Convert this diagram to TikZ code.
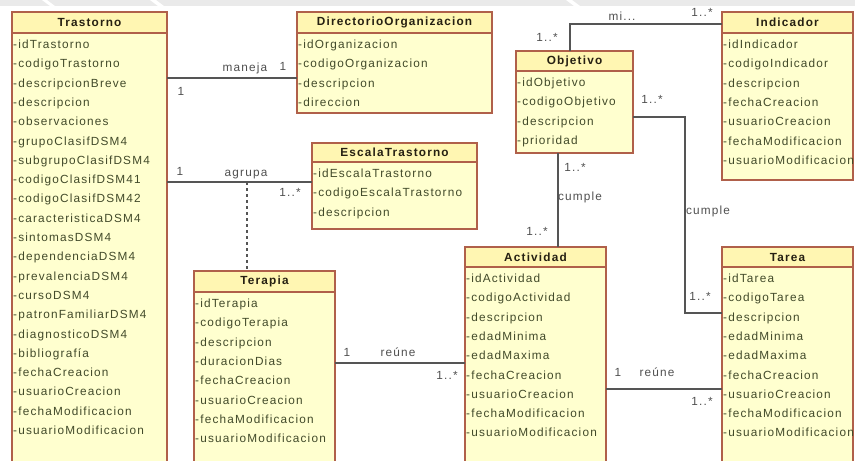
\documentclass[tikz,border=0pt]{standalone}
\usepackage{fontspec}
\setmainfont{Liberation Sans}
\newfontfamily\umlfont[LetterSpace=10]{Liberation Sans}

\definecolor{classfill}{RGB}{255,255,207}
\definecolor{headfill}{RGB}{255,246,178}
\definecolor{classline}{RGB}{176,96,74}
\definecolor{attrtext}{RGB}{66,74,42}
\definecolor{titletext}{RGB}{38,32,18}
\definecolor{linkline}{RGB}{85,85,85}
\definecolor{linktext}{RGB}{80,80,80}
\definecolor{bandgrey}{RGB}{234,234,234}

\tikzset{
  umltext/.style={font={\umlfont\fontsize{11.8}{13}\selectfont},
    text height=8.5pt, text depth=2.5pt},
  classbody/.style={draw=classline, fill=classfill, line width=1.3pt,
    inner sep=0pt, outer sep=0pt, anchor=north west},
  classhead/.style={draw=classline, fill=headfill, line width=1.3pt,
    inner sep=0pt, outer sep=0pt, anchor=north west,
    font={\umlfont\bfseries\fontsize{11.8}{13}\selectfont}, text=titletext},
  attr/.style={anchor=west, inner sep=0pt, umltext, text=attrtext},
  link/.style={draw=linkline, line width=1.1pt},
  linkdash/.style={link, dash pattern=on 3pt off 3pt},
  lbl/.style={inner sep=0pt, umltext, text=linktext},
}

% #1 name, #2 left, #3 top, #4 right, #5 bottom, #6 header bottom,
% #7 title, #8 attribute list
\newcommand\umlclass[8]{%
  \node[classbody, minimum width={#4-#2}, minimum height={#5-#3}] (#1) at (#2,#3) {};
  \node[classhead, minimum width={#4-#2}, minimum height={#6-#3}] (#1-head) at (#2,#3) {#7};
  \foreach \a [count=\i] in {#8}
    \node[attr] (#1-\i) at ({#2+1},{#6+12+round((\i-1)*19.3)}) {-\a};
}

\begin{document}
\begin{tikzpicture}[x=1pt,y=-1pt]
\useasboundingbox (0,0) rectangle (855,461);
\fill[white] (0,0) rectangle (855,461);
\clip (0,0) rectangle (855,461);

% light banner along the top edge
\fill[bandgrey] (0,0) rectangle (855,6);
\fill[white] (42,0) -- (47,0) -- (55,6) -- (50,6) -- cycle;
\fill[white] (150,0) -- (156,0) -- (164,6) -- (158,6) -- cycle;
\fill[white] (566,0) -- (572,0) -- (580,6) -- (574,6) -- cycle;

% classes
\umlclass{trastorno}{12}{12}{167}{480}{33}{Trastorno}{idTrastorno,codigoTrastorno,descripcionBreve,descripcion,observaciones,grupoClasifDSM4,subgrupoClasifDSM4,codigoClasifDSM41,codigoClasifDSM42,caracteristicaDSM4,sintomasDSM4,dependenciaDSM4,prevalenciaDSM4,cursoDSM4,patronFamiliarDSM4,diagnosticoDSM4,bibliografía,fechaCreacion,usuarioCreacion,fechaModificacion,usuarioModificacion}

\umlclass{directorio}{297}{12}{492}{113}{33}{DirectorioOrganizacion}{idOrganizacion,codigoOrganizacion,descripcion,direccion}

\umlclass{escala}{312}{143}{477}{229}{162}{EscalaTrastorno}{idEscalaTrastorno,codigoEscalaTrastorno,descripcion}

\umlclass{terapia}{194}{271}{335}{480}{292}{Terapia}{idTerapia,codigoTerapia,descripcion,duracionDias,fechaCreacion,usuarioCreacion,fechaModificacion,usuarioModificacion}

\umlclass{objetivo}{516}{51}{633}{153}{71}{Objetivo}{idObjetivo,codigoObjetivo,descripcion,prioridad}

\umlclass{indicador}{722}{12}{853}{180}{33}{Indicador}{idIndicador,codigoIndicador,descripcion,fechaCreacion,usuarioCreacion,fechaModificacion,usuarioModificacion}

\umlclass{actividad}{465}{247}{606}{480}{267}{Actividad}{idActividad,codigoActividad,descripcion,edadMinima,edadMaxima,fechaCreacion,usuarioCreacion,fechaModificacion,usuarioModificacion}

\umlclass{tarea}{722}{247}{853}{480}{267}{Tarea}{idTarea,codigoTarea,descripcion,edadMinima,edadMaxima,fechaCreacion,usuarioCreacion,fechaModificacion,usuarioModificacion}

% Trastorno -- DirectorioOrganizacion
\draw[link] (trastorno.east |- 0,78) -- (directorio.west |- 0,78);
\node[lbl] (maneja) at (245,68) {maneja};
\node[lbl] (maneja-m1) at (283,67) {1};
\node[lbl] (maneja-m2) at (181,92) {1};

% Trastorno -- EscalaTrastorno, with Terapia as association class
\draw[link] (trastorno.east |- 0,182) -- (escala.west |- 0,182);
\coordinate (agrupa-mid) at (247,182);
\draw[linkdash] (agrupa-mid) -- (agrupa-mid |- terapia.north);
\node[lbl] (agrupa) at (246,173) {agrupa};
\node[lbl] (agrupa-m1) at (180,172) {1};
\node[lbl] (agrupa-m2) at (290,193) {1..*};

% Terapia -- Actividad
\draw[link] (terapia.east |- 0,363) -- (actividad.west |- 0,363);
\node[lbl] (reune1) at (398,353) {reúne};
\node[lbl] (reune1-m1) at (347,353) {1};
\node[lbl] (reune1-m2) at (447,376) {1..*};

% Actividad -- Tarea
\draw[link] (actividad.east |- 0,389) -- (tarea.west |- 0,389);
\node[lbl] (reune2) at (657,373) {reúne};
\node[lbl] (reune2-m1) at (618,373) {1};
\node[lbl] (reune2-m2) at (702,402) {1..*};

% Objetivo -- Actividad
\draw[link] (objetivo.south -| 558,0) -- (actividad.north -| 558,0);
\node[lbl] (cumple1) at (580,197) {cumple};
\node[lbl] (cumple1-m1) at (575,168) {1..*};
\node[lbl] (cumple1-m2) at (537,232) {1..*};

% Objetivo -- Tarea
\draw[link] (objetivo.east |- 0,117) -- (685,117) -- (685,313) -- (tarea.west |- 0,313);
\node[lbl] (cumple2) at (708,211) {cumple};
\node[lbl] (cumple2-m1) at (652,100) {1..*};
\node[lbl] (cumple2-m2) at (700,297) {1..*};

% Objetivo -- Indicador
\draw[link] (objetivo.north -| 570,0) |- (indicador.west |- 0,24);
\node[lbl] (mide) at (622,17) {mi...};
\node[lbl] (mide-m1) at (547,38) {1..*};
\node[lbl] (mide-m2) at (702,13) {1..*};
\end{tikzpicture}
\end{document}
